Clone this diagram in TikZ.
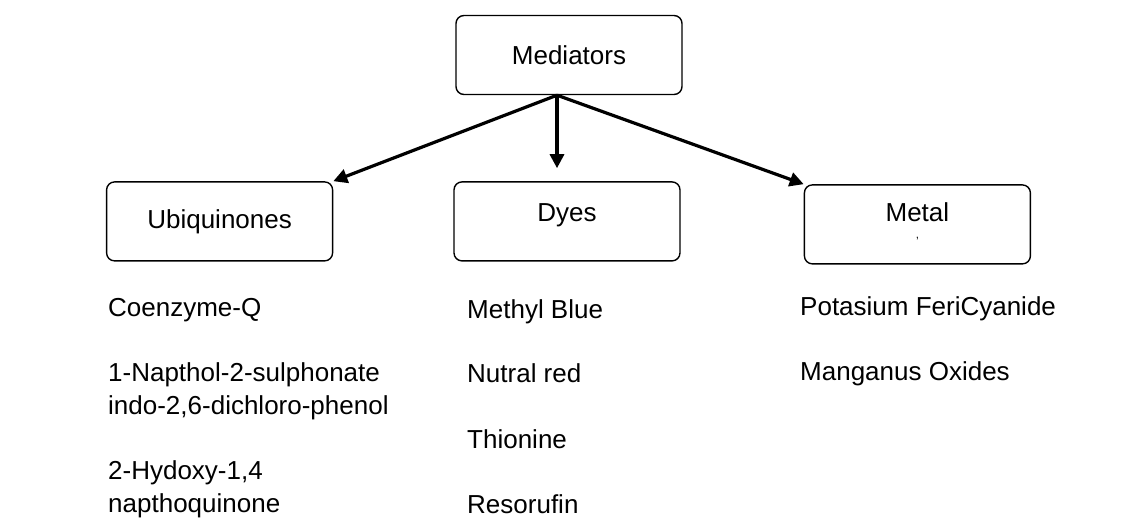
\documentclass[tikz,border=0pt]{standalone}
\usepackage{fontspec}
\setmainfont{Liberation Sans}
\usepackage{tikz}
\usetikzlibrary{positioning}
\usetikzlibrary{arrows.meta}

\begin{document}
\begin{tikzpicture}[
	x=1pt, y=-1pt,
	font=\fontsize{26}{33}\selectfont,
	box/.style={draw, line width=1.4pt, rounded corners=8pt, minimum width=226pt, minimum height=79pt, inner sep=0pt},
	item/.style={anchor=base west, align=left, inner sep=0pt},
	link/.style={line width=3.2pt, -{Triangle[length=14pt,width=14pt]}}
]

\useasboundingbox (0,0) rectangle (1138,518);

\node[
	box
] (mediators) at (569,55) {Mediators};

\node[
	box,
	text depth=17pt,
	below=86pt of mediators,
	xshift=-2pt
] (dyes) {Dyes};

\node[
	box,
	left=120pt of dyes
] (ubiquinones) {Ubiquinones};

\node[
	box,
	align=center,
	right=123pt of dyes,
	yshift=-3pt
] (metal) {Metal\\[-9pt]{\fontsize{12}{12}\selectfont '}};

% ---

\coordinate (fork) at ([xshift=-12pt]mediators.south);

\draw[link] (fork) -- (ubiquinones.north east);

\draw[link] (fork) -- ([yshift=13pt]dyes.north -| fork);

\draw[link] (fork) -- (metal.north west);

% ---

\node[item] (coenzyme) at (108,317) {Coenzyme-Q};
\node[item] (napthol) at (108,415) {1-Napthol-2-sulphonate\\indo-2,6-dichloro-phenol};
\node[item] (hydoxy) at (108,512) {2-Hydoxy-1,4\\napthoquinone};

\node[item] (methyl) at (467,319) {Methyl Blue};
\node[item] (nutral) at (467,383) {Nutral red};
\node[item] (thionine) at (467,448) {Thionine};
\node[item] (resorufin) at (467,513) {Resorufin};

\node[item] (potasium) at (800,316) {Potasium FeriCyanide};
\node[item] (manganus) at (800,381) {Manganus Oxides};

\end{tikzpicture}
\end{document}
